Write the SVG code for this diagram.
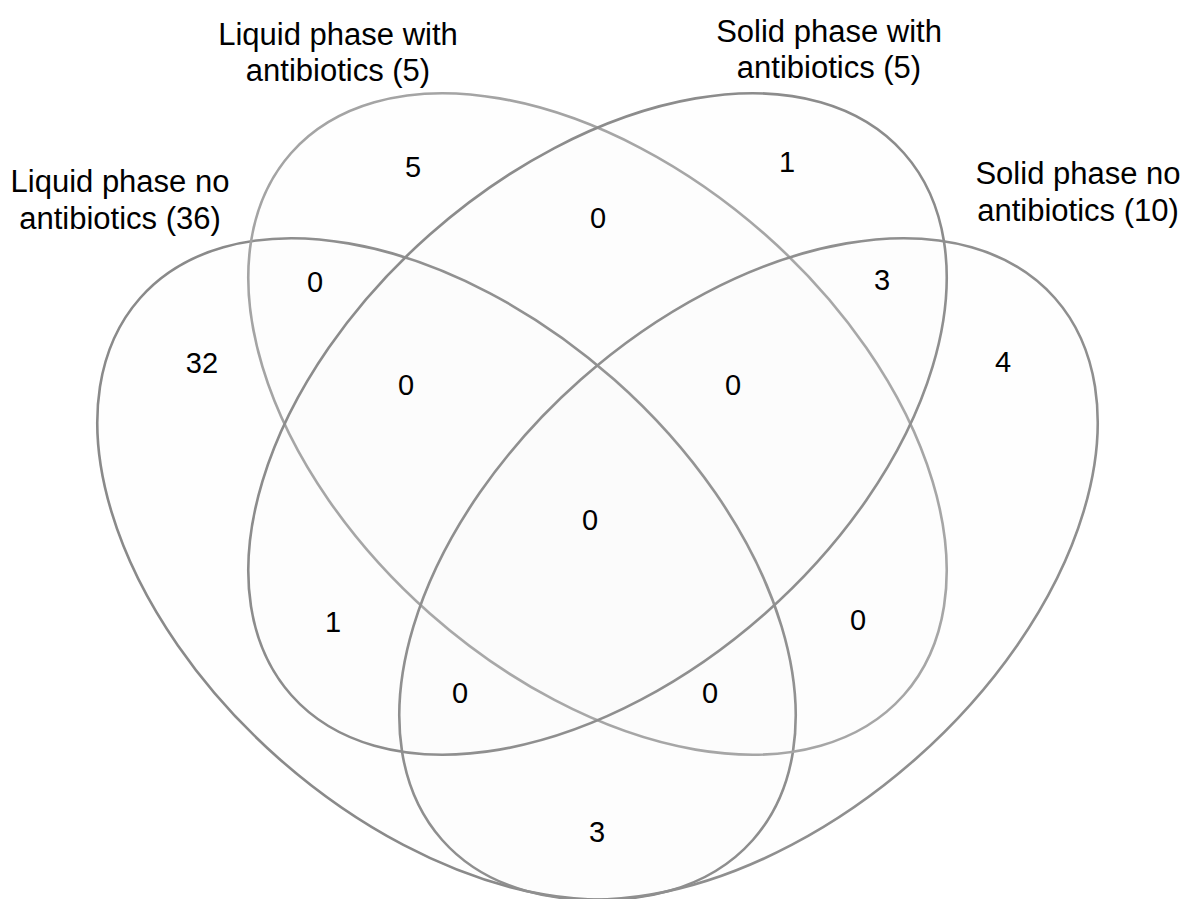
<svg xmlns="http://www.w3.org/2000/svg" width="1186" height="899" viewBox="0 0 1186 899">
<style>
.set{fill:#e8e8e8;fill-opacity:0.045;stroke-width:2.6}
.lbl{font-family:"Liberation Sans",Arial,sans-serif;font-size:31px;fill:#000;text-anchor:middle}
.num{font-family:"Liberation Sans",Arial,sans-serif;font-size:29px;fill:#000;text-anchor:middle}
</style>
<rect width="1186" height="899" fill="#fff"/>
<g id="set-liquid-no-antibiotics">
<ellipse class="set" cx="446.5" cy="569" rx="409" ry="253" transform="rotate(41.5 446.5 569)" stroke="#8a8a8a"/>
<text class="lbl" x="120" y="192">Liquid phase no</text>
<text class="lbl" x="120" y="229">antibiotics (36)</text>
</g>
<g id="set-liquid-with-antibiotics">
<ellipse class="set" cx="597.5" cy="424" rx="409" ry="253" transform="rotate(41.5 597.5 424)" stroke="#a4a4a4"/>
<text class="lbl" x="338" y="45">Liquid phase with</text>
<text class="lbl" x="338" y="81">antibiotics (5)</text>
</g>
<g id="set-solid-with-antibiotics">
<ellipse class="set" cx="597.5" cy="424" rx="409" ry="253" transform="rotate(-41.5 597.5 424)" stroke="#8c8c8c"/>
<text class="lbl" x="829" y="42">Solid phase with</text>
<text class="lbl" x="829" y="78">antibiotics (5)</text>
</g>
<g id="set-solid-no-antibiotics">
<ellipse class="set" cx="748.5" cy="569" rx="409" ry="253" transform="rotate(-41.5 748.5 569)" stroke="#8f8f8f"/>
<text class="lbl" x="1078" y="184">Solid phase no</text>
<text class="lbl" x="1078" y="221">antibiotics (10)</text>
</g>
<g id="region-counts">
<text class="num" x="413" y="177">5</text>
<text class="num" x="787" y="172">1</text>
<text class="num" x="598" y="228">0</text>
<text class="num" x="202" y="373">32</text>
<text class="num" x="315" y="292">0</text>
<text class="num" x="406" y="395">0</text>
<text class="num" x="882" y="290">3</text>
<text class="num" x="1003" y="372">4</text>
<text class="num" x="733" y="395">0</text>
<text class="num" x="590" y="530">0</text>
<text class="num" x="333" y="632">1</text>
<text class="num" x="858" y="630">0</text>
<text class="num" x="460" y="703">0</text>
<text class="num" x="710" y="703">0</text>
<text class="num" x="597" y="842">3</text>
</g>
</svg>
